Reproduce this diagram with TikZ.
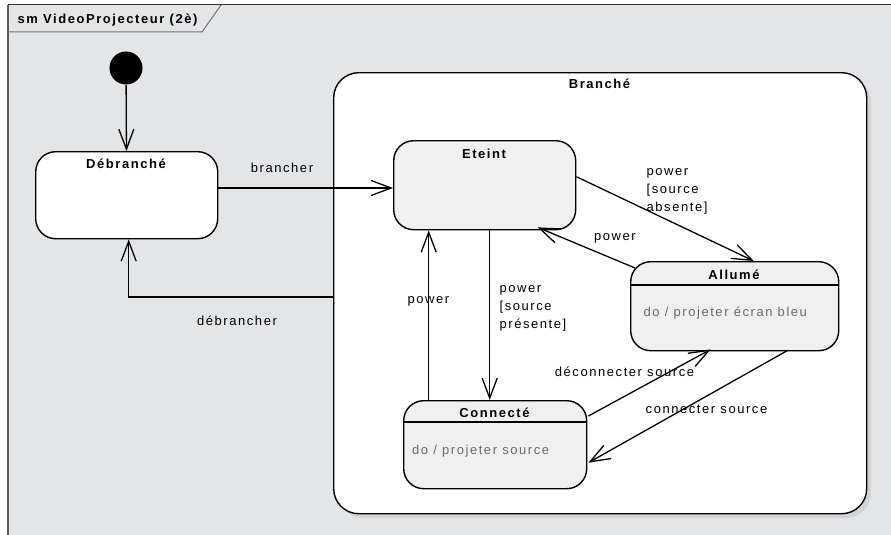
\documentclass[tikz,border=0pt]{standalone}
\usepackage{fontspec}
\setmainfont{Liberation Sans}[LetterSpace=12]
\usepackage{tikz}
\usetikzlibrary{arrows.meta, shapes}
\definecolor{framebg}{HTML}{E4E5E7}
\definecolor{statefill}{HTML}{F0F0F0}
\definecolor{dotext}{HTML}{6A6A6A}
\definecolor{shadowgray}{HTML}{D3D4D6}

\begin{document}
\begin{tikzpicture}[x=1pt, y=-1pt, >={Straight Barb[length=20pt,width=15pt]}, line width=1.3pt]
    \tikzstyle{every node} = [font=\fontsize{13}{18}\selectfont, inner sep=0pt]
    \tikzstyle{state} = [draw, rounded corners=20pt, fill=statefill, line width=1.4pt, anchor=north west]
    \tikzstyle{titletext} = [font=\fontsize{13}{18}\selectfont\bfseries]
    \tikzstyle{dotext} = [text=dotext, anchor=west]
    \tikzstyle{guard} = [anchor=north west, align=left]
    \useasboundingbox (0,0) rectangle (891,535);
    \fill [framebg] (8,5) rectangle (891,535);
    \draw [line width=1pt, black!80] (891,5) -- (8,5);
    \draw [line width=1.4pt, black!65] (8,5) -- (8,535);
    \draw [line width=1pt, black!55] (8,32) -- (202,32) -- (221,5);
    \node (frametitle) [titletext, anchor=west] at (17,20) {sm VideoProjecteur (2è)};

    \node (init) [circle, fill=black, minimum size=33pt] at (126,68) {};
    \node (debranche) [state, fill=white, minimum width=182pt, minimum height=87pt] at (35,151) {};
    \node (debrancheTitle) [titletext] at (126,164) {Débranché};

    \fill [shadowgray, rounded corners=25pt] (338,77) rectangle (871,518);
    \node (branche) [state, fill=white, rounded corners=25pt, minimum width=533pt, minimum height=441pt] at (333,72) {};
    \node (brancheTitle) [titletext] at (599.5,84) {Branché};

    \node (eteint) [state, minimum width=182pt, minimum height=89pt] at (393,140) {};
    \node (eteintTitle) [titletext] at (484,154) {Eteint};

    \node (allume) [state, minimum width=208pt, minimum height=89pt] at (630,261) {};
    \node (allumeTitle) [titletext] at (734,275) {Allumé};
    \draw [line width=1.4pt] (allume.west |- 0,285) -- (allume.east |- 0,285);
    \node (allumeDo) [dotext] at (643,313) {do / projeter écran bleu};

    \node (connecte) [state, minimum width=183pt, minimum height=88pt] at (403,400) {};
    \node (connecteTitle) [titletext] at (494.5,413) {Connecté};
    \draw [line width=1.4pt] (connecte.west |- 0,422) -- (connecte.east |- 0,422);
    \node (connecteDo) [dotext] at (411.5,451) {do / projeter source};

    \draw [->] (init) -- (debranche);
    \draw [->] (debranche.east |- 0,188) -- (eteint.west |- 0,188);
    \node (lblBrancher) at (282,168) {brancher};
    \draw [->] (branche.west |- 0,297) -| ([xshift=2pt]debranche.south);
    \node (lblDebrancher) at (237,321) {débrancher};

    \draw [->] ([yshift=8.5pt]eteint.east) -- ([xshift=19pt]allume.north);
    \node (lblAbsente) [guard] at (646,168) {power\\{[}source\\absente]};
    \draw [->] ([xshift=5pt,yshift=-7pt]allume.north west) -- ([xshift=53pt,yshift=3pt]eteint.south);
    \node (lblPowerA) at (615,238) {power};
    \draw [->] ([xshift=5pt]eteint.south) -- ([xshift=-5.5pt]connecte.north);
    \node (lblPresente) [guard] at (499,285) {power\\{[}source\\présente]};
    \draw [->] ([xshift=-66.5pt]connecte.north) -- ([xshift=-56pt]eteint.south);
    \node (lblPowerC) at (428.5,301) {power};
    \draw [->] ([xshift=1pt,yshift=-16pt]connecte.north east) -- ([xshift=-24pt,yshift=2pt]allume.south);
    \node (lblDeconnecter) at (624.5,372) {déconnecter source};
    \draw [->] ([xshift=53pt,yshift=1pt]allume.south) -- ([xshift=1pt,yshift=-18pt]connecte.east);
    \node (lblConnecter) at (706.5,409) {connecter source};
\end{tikzpicture}
\end{document}
